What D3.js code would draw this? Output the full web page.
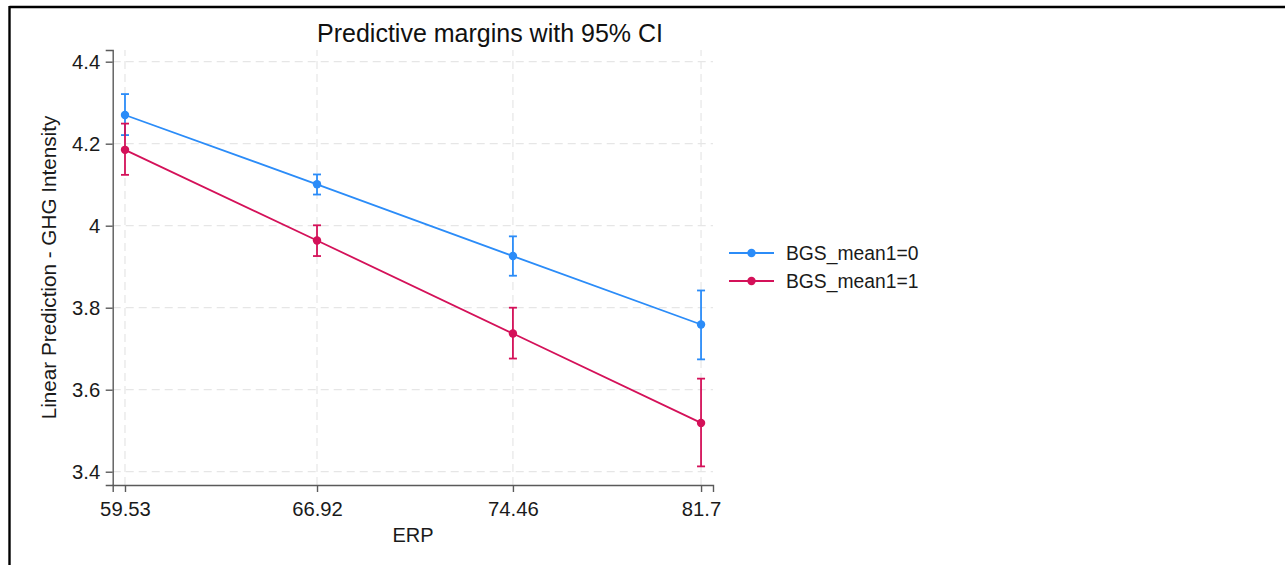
<!DOCTYPE html>
<html lang="en">
<head>
<meta charset="UTF-8">
<title>Predictive margins with 95% CI</title>
<style>
    body { margin: 0; background: #fff; }
    svg { display: block; font-family: 'Liberation Sans', Arial, sans-serif; }
    .grid line { stroke: #e6e6e6; stroke-width: 1.2; stroke-dasharray: 8,5; }
    .axis path, .axis line { stroke: #5a5a5a; stroke-width: 1.4; }
    .axis text { fill: #1a1a1a; font-size: 20.3px; }
</style>
</head>
<body>
<svg id="chart" width="1285" height="565"></svg>
<script src="https://d3js.org/d3.v7.min.js"></script>
<script>
    // values
    const erp = [59.53, 66.92, 74.46, 81.7];
    const yTicks = [3.4, 3.6, 3.8, 4, 4.2, 4.4];
    const seriesNames = ["BGS_mean1=0", "BGS_mean1=1"];
    const margin0 = [4.270, 4.101, 3.926, 3.759];
    const lower0 = [4.221, 4.076, 3.878, 3.674];
    const upper0 = [4.321, 4.125, 3.974, 3.842];
    const margin1 = [4.185, 3.964, 3.737, 3.519];
    const lower1 = [4.124, 3.926, 3.676, 3.413];
    const upper1 = [4.249, 4.001, 3.800, 3.627];
    const colors = ["#2b8cf8", "#d41159"];

    const series = [
        { name: seriesNames[0], color: colors[0], pts: erp.map((e, i) => ({ x: e, m: margin0[i], lo: lower0[i], hi: upper0[i] })) },
        { name: seriesNames[1], color: colors[1], pts: erp.map((e, i) => ({ x: e, m: margin1[i], lo: lower1[i], hi: upper1[i] })) }
    ];

    const svg = d3.select("#chart");

    // outer frame (top and left edges visible)
    svg.append("line").attr("x1", 9.5).attr("x2", 1285).attr("y1", 7).attr("y2", 7)
        .attr("stroke", "#000").attr("stroke-width", 2.4);
    svg.append("line").attr("x1", 9.5).attr("x2", 9.5).attr("y1", 6).attr("y2", 565)
        .attr("stroke", "#000").attr("stroke-width", 2.4);

    const x = d3.scaleLinear().domain([59.057, 82.16]).range([112.7, 713]);
    const y = d3.scaleLinear().domain([3.3676, 4.4285]).range([485, 50]);

    // grid
    const grid = svg.append("g").attr("class", "grid");
    grid.selectAll(".h").data(yTicks).enter().append("line")
        .attr("x1", x.range()[0]).attr("x2", x.range()[1])
        .attr("y1", d => y(d)).attr("y2", d => y(d));
    grid.selectAll(".v").data(erp).enter().append("line")
        .attr("y1", y.range()[0]).attr("y2", y.range()[1])
        .attr("x1", d => x(d)).attr("x2", d => x(d));

    // axes
    svg.append("g").attr("class", "axis")
        .attr("transform", `translate(0,${y.range()[0]})`)
        .call(d3.axisBottom(x).tickValues(erp).tickFormat(d => d).tickSizeOuter(0).tickSize(7).tickPadding(9.5));
    svg.append("g").attr("class", "axis")
        .attr("transform", `translate(${x.range()[0]},0)`)
        .call(d3.axisLeft(y).tickValues(yTicks).tickFormat(d => d).tickSizeOuter(0).tickSize(7).tickPadding(5.5));

    // lines, error bars, markers
    const line = d3.line().x(d => x(d.x)).y(d => y(d.m));
    series.forEach(s => {
        const g = svg.append("g");
        g.append("path").datum(s.pts).attr("d", line)
            .attr("fill", "none").attr("stroke", s.color).attr("stroke-width", 1.8);
        g.selectAll(".ci").data(s.pts).enter().append("line")
            .attr("x1", d => x(d.x)).attr("x2", d => x(d.x))
            .attr("y1", d => y(d.lo)).attr("y2", d => y(d.hi))
            .attr("stroke", s.color).attr("stroke-width", 1.8);
        ["lo", "hi"].forEach(k => {
            g.selectAll(".cap-" + k).data(s.pts).enter().append("line")
                .attr("x1", d => x(d.x) - 4).attr("x2", d => x(d.x) + 4)
                .attr("y1", d => y(d[k])).attr("y2", d => y(d[k]))
                .attr("stroke", s.color).attr("stroke-width", 1.8);
        });
        g.selectAll("circle").data(s.pts).enter().append("circle")
            .attr("cx", d => x(d.x)).attr("cy", d => y(d.m)).attr("r", 4.2)
            .attr("fill", s.color);
    });

    // titles
    svg.append("text").attr("x", 490).attr("y", 41.5).attr("text-anchor", "middle")
        .style("font-size", "25px").attr("fill", "#111").text("Predictive margins with 95% CI");
    svg.append("text").attr("x", 413).attr("y", 542).attr("text-anchor", "middle")
        .style("font-size", "20px").attr("fill", "#1a1a1a").text("ERP");
    svg.append("text").attr("transform", `translate(56,${(y.range()[0] + y.range()[1]) / 2}) rotate(-90)`)
        .attr("text-anchor", "middle").style("font-size", "20.7px").attr("fill", "#1a1a1a")
        .text("Linear Prediction - GHG Intensity");

    // legend
    const legend = svg.append("g").attr("transform", "translate(729,253)");
    series.forEach((s, i) => {
        const row = legend.append("g").attr("transform", `translate(0,${i * 28})`);
        row.append("line").attr("x1", 0).attr("x2", 45).attr("stroke", s.color).attr("stroke-width", 1.8);
        row.append("circle").attr("cx", 22.5).attr("r", 4.2).attr("fill", s.color);
        row.append("text").attr("x", 57).attr("dy", "0.35em").style("font-size", "19.3px")
            .attr("fill", "#1a1a1a").text(s.name);
    });
</script>
</body>
</html>
